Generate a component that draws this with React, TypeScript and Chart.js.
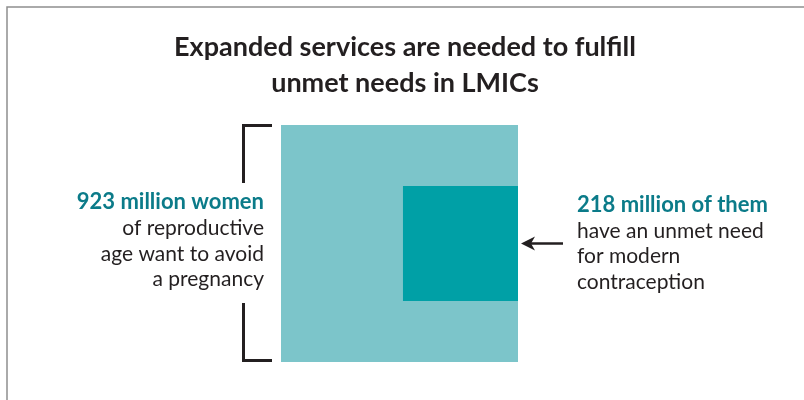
import React, { useEffect, useRef } from "react";
import { Chart, registerables } from "chart.js";

Chart.register(...registerables);

// Data (millions of women in LMICs)
const categories: string[] = ["Want to avoid a pregnancy", "Unmet need for modern contraception"];
const valuesMillions: number[] = [923, 218];
const titleLines: string[] = ["Expanded services are needed to fulfill", "unmet needs in LMICs"];
const leftHighlight: string = "923 million women";
const leftLines: string[] = ["of reproductive", "age want to avoid", "a pregnancy"];
const rightHighlight: string = "218 million of them";
const rightLines: string[] = ["have an unmet need", "for modern", "contraception"];

const TEAL_LIGHT = "#7cc5ca";
const TEAL_DARK = "#00a0a6";
const TEAL_TEXT = "#0b7b89";
const DARK = "#231f20";
const FONT = "Lato, 'Open Sans', sans-serif";

export default function App() {
  const ref = useRef<HTMLCanvasElement | null>(null);

  useEffect(() => {
    if (!ref.current) return;
    const S = Math.sqrt(valuesMillions[0]);
    const s = Math.sqrt(valuesMillions[1]);

    const overlay = {
      id: "overlay",
      afterDraw(chart: any) {
        const ctx = chart.ctx as CanvasRenderingContext2D;
        const area = chart.chartArea;
        const xs = chart.scales.x;
        const ys = chart.scales.y;
        ctx.save();
        // frame
        ctx.strokeStyle = "#8f8f8f";
        ctx.lineWidth = 1.5;
        ctx.beginPath();
        ctx.moveTo(7, 400);
        ctx.lineTo(7, 7);
        ctx.lineTo(804, 7);
        ctx.stroke();

        // title
        ctx.fillStyle = DARK;
        ctx.font = `bold 27px ${FONT}`;
        ctx.textAlign = "center";
        ctx.textBaseline = "alphabetic";
        ctx.fillText(titleLines[0], 405, 56);
        ctx.fillText(titleLines[1], 405, 92);

        // bracket
        const bx = area.left - 37.5;
        const bEnd = area.left - 9;
        ctx.strokeStyle = DARK;
        ctx.lineWidth = 3;
        ctx.lineCap = "butt";
        ctx.beginPath();
        ctx.moveTo(bEnd, area.top + 0.5);
        ctx.lineTo(bx, area.top + 0.5);
        ctx.lineTo(bx, 183);
        ctx.moveTo(bx, 303);
        ctx.lineTo(bx, area.bottom - 1.5);
        ctx.lineTo(bEnd, area.bottom - 1.5);
        ctx.stroke();

        // left text
        ctx.textAlign = "right";
        ctx.font = `bold 22px ${FONT}`;
        ctx.fillStyle = TEAL_TEXT;
        ctx.fillText(leftHighlight, 264, 209);
        ctx.font = `21px ${FONT}`;
        ctx.fillStyle = DARK;
        leftLines.forEach((t, i) => ctx.fillText(t, 264, 235 + i * 25.5));

        // arrow
        const ay = ys.getPixelForValue(S / 2);
        const tipX = xs.getPixelForValue(S) + 3;
        ctx.strokeStyle = DARK;
        ctx.lineWidth = 2.5;
        ctx.beginPath();
        ctx.moveTo(tipX + 8, ay);
        ctx.lineTo(563, ay);
        ctx.stroke();
        ctx.fillStyle = DARK;
        ctx.beginPath();
        ctx.moveTo(tipX, ay);
        ctx.lineTo(tipX + 14, ay - 7);
        ctx.lineTo(tipX + 10, ay);
        ctx.lineTo(tipX + 14, ay + 7);
        ctx.closePath();
        ctx.fill();

        // right text
        ctx.textAlign = "left";
        ctx.font = `bold 22px ${FONT}`;
        ctx.fillStyle = TEAL_TEXT;
        ctx.fillText(rightHighlight, 577, 212);
        ctx.font = `21px ${FONT}`;
        ctx.fillStyle = DARK;
        rightLines.forEach((t, i) => ctx.fillText(t, 577, 238 + i * 25.3));
        ctx.restore();
      },
    };

    const chart = new Chart(ref.current, {
      type: "scatter",
      data: {
        datasets: [
          {
            label: categories[1],
            data: [
              { x: S - s, y: (S + s) / 2 },
              { x: S, y: (S + s) / 2 },
            ],
            showLine: true,
            fill: { value: (S - s) / 2 },
            backgroundColor: TEAL_DARK,
            borderColor: TEAL_DARK,
            borderWidth: 0,
            pointRadius: 0,
            tension: 0,
          } as any,
          {
            label: categories[0],
            data: [
              { x: 0, y: S },
              { x: S, y: S },
            ],
            showLine: true,
            fill: "origin",
            backgroundColor: TEAL_LIGHT,
            borderColor: TEAL_LIGHT,
            borderWidth: 0,
            pointRadius: 0,
            tension: 0,
          } as any,
        ],
      },
      options: {
        responsive: false,
        animation: false,
        devicePixelRatio: 1,
        layout: { padding: { left: 281, right: 286, top: 125, bottom: 38 } },
        scales: {
          x: { type: "linear", min: 0, max: S, display: false },
          y: { type: "linear", min: 0, max: S, display: false },
        },
        plugins: {
          legend: { display: false },
          tooltip: { enabled: false },
          title: { display: false },
        },
        events: [],
      },
      plugins: [overlay],
    });
    return () => chart.destroy();
  }, []);

  return (
    <div style={{ position: "fixed", left: 0, top: 0, width: 804, height: 400, background: "#fff" }}>
      <canvas ref={ref} width={804} height={400} style={{ width: 804, height: 400, display: "block" }} />
    </div>
  );
}
